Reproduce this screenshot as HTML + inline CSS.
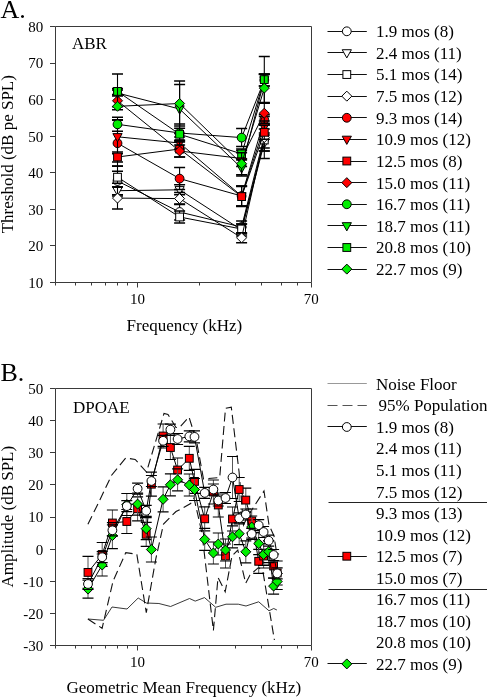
<!DOCTYPE html>
<html><head><meta charset="utf-8"><style>
html,body{margin:0;padding:0;background:#fff;}
svg{display:block;font-family:"Liberation Serif", serif;will-change:transform;}
</style></head><body>
<svg width="487" height="697" viewBox="0 0 487 697">
<rect width="487" height="697" fill="#fff"/>
<path d="M55.5 26.5H311.5V282.5H55.5Z" fill="none" stroke="#3a3a3a" stroke-width="1"/>
<line x1="50" y1="26.5" x2="55.5" y2="26.5" stroke="#3a3a3a" stroke-width="1"/>
<text x="43.3" y="31.9" text-anchor="end" font-size="15">80</text>
<line x1="50" y1="63.5" x2="55.5" y2="63.5" stroke="#3a3a3a" stroke-width="1"/>
<text x="43.3" y="68.47142857142858" text-anchor="end" font-size="15">70</text>
<line x1="50" y1="99.5" x2="55.5" y2="99.5" stroke="#3a3a3a" stroke-width="1"/>
<text x="43.3" y="105.04285714285714" text-anchor="end" font-size="15">60</text>
<line x1="50" y1="136.5" x2="55.5" y2="136.5" stroke="#3a3a3a" stroke-width="1"/>
<text x="43.3" y="141.61428571428573" text-anchor="end" font-size="15">50</text>
<line x1="50" y1="172.5" x2="55.5" y2="172.5" stroke="#3a3a3a" stroke-width="1"/>
<text x="43.3" y="178.18571428571428" text-anchor="end" font-size="15">40</text>
<line x1="50" y1="209.5" x2="55.5" y2="209.5" stroke="#3a3a3a" stroke-width="1"/>
<text x="43.3" y="214.75714285714287" text-anchor="end" font-size="15">30</text>
<line x1="50" y1="245.5" x2="55.5" y2="245.5" stroke="#3a3a3a" stroke-width="1"/>
<text x="43.3" y="251.32857142857142" text-anchor="end" font-size="15">20</text>
<line x1="50" y1="282.5" x2="55.5" y2="282.5" stroke="#3a3a3a" stroke-width="1"/>
<text x="43.3" y="287.9" text-anchor="end" font-size="15">10</text>
<line x1="55.5" y1="282.5" x2="55.5" y2="285.5" stroke="#3a3a3a" stroke-width="1"/>
<line x1="75.5" y1="282.5" x2="75.5" y2="285.5" stroke="#3a3a3a" stroke-width="1"/>
<line x1="91.5" y1="282.5" x2="91.5" y2="285.5" stroke="#3a3a3a" stroke-width="1"/>
<line x1="105.5" y1="282.5" x2="105.5" y2="285.5" stroke="#3a3a3a" stroke-width="1"/>
<line x1="117.5" y1="282.5" x2="117.5" y2="285.5" stroke="#3a3a3a" stroke-width="1"/>
<line x1="127.5" y1="282.5" x2="127.5" y2="285.5" stroke="#3a3a3a" stroke-width="1"/>
<line x1="199.5" y1="282.5" x2="199.5" y2="285.5" stroke="#3a3a3a" stroke-width="1"/>
<line x1="235.5" y1="282.5" x2="235.5" y2="285.5" stroke="#3a3a3a" stroke-width="1"/>
<line x1="261.5" y1="282.5" x2="261.5" y2="285.5" stroke="#3a3a3a" stroke-width="1"/>
<line x1="281.5" y1="282.5" x2="281.5" y2="285.5" stroke="#3a3a3a" stroke-width="1"/>
<line x1="297.5" y1="282.5" x2="297.5" y2="285.5" stroke="#3a3a3a" stroke-width="1"/>
<line x1="137.5" y1="282.5" x2="137.5" y2="287.5" stroke="#3a3a3a" stroke-width="1"/>
<line x1="311.5" y1="282.5" x2="311.5" y2="287.5" stroke="#3a3a3a" stroke-width="1"/>
<text x="137.4" y="304.0" text-anchor="middle" font-size="15">10</text>
<text x="311.2366668309326" y="304.0" text-anchor="middle" font-size="15">70</text>
<path d="M55.5 388.5H311.5V645.5H55.5Z" fill="none" stroke="#3a3a3a" stroke-width="1"/>
<line x1="50" y1="388.5" x2="55.5" y2="388.5" stroke="#3a3a3a" stroke-width="1"/>
<text x="43.3" y="393.9" text-anchor="end" font-size="15">50</text>
<line x1="50" y1="420.5" x2="55.5" y2="420.5" stroke="#3a3a3a" stroke-width="1"/>
<text x="43.3" y="426.025" text-anchor="end" font-size="15">40</text>
<line x1="50" y1="452.5" x2="55.5" y2="452.5" stroke="#3a3a3a" stroke-width="1"/>
<text x="43.3" y="458.15" text-anchor="end" font-size="15">30</text>
<line x1="50" y1="484.5" x2="55.5" y2="484.5" stroke="#3a3a3a" stroke-width="1"/>
<text x="43.3" y="490.275" text-anchor="end" font-size="15">20</text>
<line x1="50" y1="517.5" x2="55.5" y2="517.5" stroke="#3a3a3a" stroke-width="1"/>
<text x="43.3" y="522.4" text-anchor="end" font-size="15">10</text>
<line x1="50" y1="549.5" x2="55.5" y2="549.5" stroke="#3a3a3a" stroke-width="1"/>
<text x="43.3" y="554.525" text-anchor="end" font-size="15">0</text>
<line x1="50" y1="581.5" x2="55.5" y2="581.5" stroke="#3a3a3a" stroke-width="1"/>
<text x="43.3" y="586.65" text-anchor="end" font-size="15">-10</text>
<line x1="50" y1="613.5" x2="55.5" y2="613.5" stroke="#3a3a3a" stroke-width="1"/>
<text x="43.3" y="618.775" text-anchor="end" font-size="15">-20</text>
<line x1="50" y1="645.5" x2="55.5" y2="645.5" stroke="#3a3a3a" stroke-width="1"/>
<text x="43.3" y="650.9" text-anchor="end" font-size="15">-30</text>
<line x1="55.5" y1="645.5" x2="55.5" y2="648.5" stroke="#3a3a3a" stroke-width="1"/>
<line x1="75.5" y1="645.5" x2="75.5" y2="648.5" stroke="#3a3a3a" stroke-width="1"/>
<line x1="91.5" y1="645.5" x2="91.5" y2="648.5" stroke="#3a3a3a" stroke-width="1"/>
<line x1="105.5" y1="645.5" x2="105.5" y2="648.5" stroke="#3a3a3a" stroke-width="1"/>
<line x1="117.5" y1="645.5" x2="117.5" y2="648.5" stroke="#3a3a3a" stroke-width="1"/>
<line x1="127.5" y1="645.5" x2="127.5" y2="648.5" stroke="#3a3a3a" stroke-width="1"/>
<line x1="199.5" y1="645.5" x2="199.5" y2="648.5" stroke="#3a3a3a" stroke-width="1"/>
<line x1="235.5" y1="645.5" x2="235.5" y2="648.5" stroke="#3a3a3a" stroke-width="1"/>
<line x1="261.5" y1="645.5" x2="261.5" y2="648.5" stroke="#3a3a3a" stroke-width="1"/>
<line x1="281.5" y1="645.5" x2="281.5" y2="648.5" stroke="#3a3a3a" stroke-width="1"/>
<line x1="297.5" y1="645.5" x2="297.5" y2="648.5" stroke="#3a3a3a" stroke-width="1"/>
<line x1="137.5" y1="645.5" x2="137.5" y2="650.5" stroke="#3a3a3a" stroke-width="1"/>
<line x1="311.5" y1="645.5" x2="311.5" y2="650.5" stroke="#3a3a3a" stroke-width="1"/>
<text x="137.4" y="667.0" text-anchor="middle" font-size="15">10</text>
<text x="311.2366668309326" y="667.0" text-anchor="middle" font-size="15">70</text>
<text x="0.5" y="17.5" font-size="26">A.</text>
<text x="0.5" y="380.6" font-size="26">B.</text>
<text x="72" y="49.3" font-size="17">ABR</text>
<text x="73" y="412.5" font-size="17">DPOAE</text>
<text x="126.6" y="330.5" font-size="17">Frequency (kHz)</text>
<text x="66.5" y="693" font-size="17">Geometric Mean Frequency (kHz)</text>
<text transform="translate(12.8,233.3) rotate(-90)" font-size="17">Threshold (dB pe SPL)</text>
<text transform="translate(12.8,587.5) rotate(-90)" font-size="17">Amplitude (dB SPL)</text>
<line x1="327.5" y1="31.50" x2="366.8" y2="31.50" stroke="#111" stroke-width="1"/>
<circle cx="346.80" cy="31.30" r="4.40" fill="#fff" stroke="#000" stroke-width="1.0"/>
<text x="376" y="37.20" font-size="17">1.9 mos (8)</text>
<line x1="327.5" y1="52.50" x2="366.8" y2="52.50" stroke="#111" stroke-width="1"/>
<path d="M342.20 49.72H351.40L346.80 57.92Z" fill="#fff" stroke="#000" stroke-width="1.0"/>
<text x="376" y="58.82" font-size="17">2.4 mos (11)</text>
<line x1="327.5" y1="74.50" x2="366.8" y2="74.50" stroke="#111" stroke-width="1"/>
<rect x="342.90" y="70.64" width="7.80" height="7.80" fill="#fff" stroke="#000" stroke-width="1.0"/>
<text x="376" y="80.44" font-size="17">5.1 mos (14)</text>
<line x1="327.5" y1="96.50" x2="366.8" y2="96.50" stroke="#111" stroke-width="1"/>
<path d="M346.80 91.16L351.80 96.16L346.80 101.16L341.80 96.16Z" fill="#fff" stroke="#000" stroke-width="1.0"/>
<text x="376" y="102.06" font-size="17">7.5 mos (12)</text>
<line x1="327.5" y1="117.50" x2="366.8" y2="117.50" stroke="#111" stroke-width="1"/>
<circle cx="346.80" cy="117.78" r="4.40" fill="#ff0000" stroke="#000" stroke-width="1.0"/>
<text x="376" y="123.68" font-size="17">9.3 mos (14)</text>
<line x1="327.5" y1="139.50" x2="366.8" y2="139.50" stroke="#111" stroke-width="1"/>
<path d="M342.20 136.20H351.40L346.80 144.40Z" fill="#ff0000" stroke="#000" stroke-width="1.0"/>
<text x="376" y="145.30" font-size="17">10.9 mos (12)</text>
<line x1="327.5" y1="161.50" x2="366.8" y2="161.50" stroke="#111" stroke-width="1"/>
<rect x="342.90" y="157.12" width="7.80" height="7.80" fill="#ff0000" stroke="#000" stroke-width="1.0"/>
<text x="376" y="166.92" font-size="17">12.5 mos (8)</text>
<line x1="327.5" y1="182.50" x2="366.8" y2="182.50" stroke="#111" stroke-width="1"/>
<path d="M346.80 177.64L351.80 182.64L346.80 187.64L341.80 182.64Z" fill="#ff0000" stroke="#000" stroke-width="1.0"/>
<text x="376" y="188.54" font-size="17">15.0 mos (11)</text>
<line x1="327.5" y1="204.50" x2="366.8" y2="204.50" stroke="#111" stroke-width="1"/>
<circle cx="346.80" cy="204.26" r="4.40" fill="#00ee00" stroke="#000" stroke-width="1.0"/>
<text x="376" y="210.16" font-size="17">16.7 mos (11)</text>
<line x1="327.5" y1="225.50" x2="366.8" y2="225.50" stroke="#111" stroke-width="1"/>
<path d="M342.20 222.68H351.40L346.80 230.88Z" fill="#00ee00" stroke="#000" stroke-width="1.0"/>
<text x="376" y="231.78" font-size="17">18.7 mos (11)</text>
<line x1="327.5" y1="247.50" x2="366.8" y2="247.50" stroke="#111" stroke-width="1"/>
<rect x="342.90" y="243.60" width="7.80" height="7.80" fill="#00ee00" stroke="#000" stroke-width="1.0"/>
<text x="376" y="253.40" font-size="17">20.8 mos (10)</text>
<line x1="327.5" y1="269.50" x2="366.8" y2="269.50" stroke="#111" stroke-width="1"/>
<path d="M346.80 264.12L351.80 269.12L346.80 274.12L341.80 269.12Z" fill="#00ee00" stroke="#000" stroke-width="1.0"/>
<text x="376" y="275.02" font-size="17">22.7 mos (9)</text>
<text x="376" y="389.80" font-size="17">Noise Floor</text>
<line x1="327.5" y1="383.50" x2="366.8" y2="383.50" stroke="#999" stroke-width="1"/>
<text x="378.5" y="411.34" font-size="17">95% Population</text>
<line x1="327.5" y1="405.50" x2="366.8" y2="405.50" stroke="#555" stroke-width="1" stroke-dasharray="10 5"/>
<text x="376" y="432.88" font-size="17">1.9 mos (8)</text>
<line x1="327.5" y1="426.50" x2="366.8" y2="426.50" stroke="#111" stroke-width="1"/>
<circle cx="346.80" cy="426.98" r="4.40" fill="#fff" stroke="#000" stroke-width="1.0"/>
<text x="376" y="454.42" font-size="17">2.4 mos (11)</text>
<text x="376" y="475.96" font-size="17">5.1 mos (11)</text>
<text x="376" y="497.50" font-size="17">7.5 mos (12)</text>
<text x="376" y="519.04" font-size="17">9.3 mos (13)</text>
<text x="376" y="540.58" font-size="17">10.9 mos (12)</text>
<text x="376" y="562.12" font-size="17">12.5 mos (7)</text>
<line x1="327.5" y1="556.50" x2="366.8" y2="556.50" stroke="#111" stroke-width="1"/>
<rect x="342.90" y="552.32" width="7.80" height="7.80" fill="#ff0000" stroke="#000" stroke-width="1.0"/>
<text x="376" y="583.66" font-size="17">15.0 mos (7)</text>
<text x="376" y="605.20" font-size="17">16.7 mos (11)</text>
<text x="376" y="626.74" font-size="17">18.7 mos (10)</text>
<text x="376" y="648.28" font-size="17">20.8 mos (10)</text>
<text x="376" y="669.82" font-size="17">22.7 mos (9)</text>
<line x1="327.5" y1="663.50" x2="366.8" y2="663.50" stroke="#111" stroke-width="1"/>
<path d="M346.80 658.92L351.80 663.92L346.80 668.92L341.80 663.92Z" fill="#00ee00" stroke="#000" stroke-width="1.0"/>
<line x1="328.5" y1="502.5" x2="487" y2="502.5" stroke="#222" stroke-width="1"/>
<line x1="328.5" y1="589.5" x2="487" y2="589.5" stroke="#222" stroke-width="1"/>
<polyline points="117.5,181.0 179.6,212.0 241.6,227.0 264.3,136.0" fill="none" stroke="#000" stroke-width="1"/>
<path d="M117.5 166.0V196.0" stroke="#000" stroke-width="1.1" fill="none"/><path d="M112.0 166.0H123.0M112.0 196.0H123.0" stroke="#000" stroke-width="1.5" fill="none"/>
<path d="M179.6 204.0V220.0" stroke="#000" stroke-width="1.1" fill="none"/><path d="M174.1 204.0H185.1M174.1 220.0H185.1" stroke="#000" stroke-width="1.5" fill="none"/>
<path d="M241.6 221.0V233.0" stroke="#000" stroke-width="1.1" fill="none"/><path d="M236.1 221.0H247.1M236.1 233.0H247.1" stroke="#000" stroke-width="1.5" fill="none"/>
<path d="M264.3 124.0V148.0" stroke="#000" stroke-width="1.1" fill="none"/><path d="M258.8 124.0H269.8M258.8 148.0H269.8" stroke="#000" stroke-width="1.5" fill="none"/>
<circle cx="117.50" cy="181.00" r="4.40" fill="#fff" stroke="#000" stroke-width="1.0"/>
<circle cx="179.60" cy="212.00" r="4.40" fill="#fff" stroke="#000" stroke-width="1.0"/>
<circle cx="241.60" cy="227.00" r="4.40" fill="#fff" stroke="#000" stroke-width="1.0"/>
<circle cx="264.30" cy="136.00" r="4.40" fill="#fff" stroke="#000" stroke-width="1.0"/>
<polyline points="117.5,190.7 179.6,189.8 241.6,230.0 264.3,143.0" fill="none" stroke="#000" stroke-width="1"/>
<path d="M117.5 186.7V194.7" stroke="#000" stroke-width="1.1" fill="none"/><path d="M112.0 186.7H123.0M112.0 194.7H123.0" stroke="#000" stroke-width="1.5" fill="none"/>
<path d="M179.6 184.8V194.8" stroke="#000" stroke-width="1.1" fill="none"/><path d="M174.1 184.8H185.1M174.1 194.8H185.1" stroke="#000" stroke-width="1.5" fill="none"/>
<path d="M241.6 224.0V236.0" stroke="#000" stroke-width="1.1" fill="none"/><path d="M236.1 224.0H247.1M236.1 236.0H247.1" stroke="#000" stroke-width="1.5" fill="none"/>
<path d="M264.3 135.0V151.0" stroke="#000" stroke-width="1.1" fill="none"/><path d="M258.8 135.0H269.8M258.8 151.0H269.8" stroke="#000" stroke-width="1.5" fill="none"/>
<path d="M112.90 187.50H122.10L117.50 195.70Z" fill="#fff" stroke="#000" stroke-width="1.0"/>
<path d="M175.00 186.60H184.20L179.60 194.80Z" fill="#fff" stroke="#000" stroke-width="1.0"/>
<path d="M237.00 226.80H246.20L241.60 235.00Z" fill="#fff" stroke="#000" stroke-width="1.0"/>
<path d="M259.70 139.80H268.90L264.30 148.00Z" fill="#fff" stroke="#000" stroke-width="1.0"/>
<polyline points="117.5,177.2 179.6,217.0 241.6,229.0 264.3,140.0" fill="none" stroke="#000" stroke-width="1"/>
<path d="M117.5 171.2V183.2" stroke="#000" stroke-width="1.1" fill="none"/><path d="M112.0 171.2H123.0M112.0 183.2H123.0" stroke="#000" stroke-width="1.5" fill="none"/>
<path d="M179.6 211.0V223.0" stroke="#000" stroke-width="1.1" fill="none"/><path d="M174.1 211.0H185.1M174.1 223.0H185.1" stroke="#000" stroke-width="1.5" fill="none"/>
<path d="M241.6 224.0V234.0" stroke="#000" stroke-width="1.1" fill="none"/><path d="M236.1 224.0H247.1M236.1 234.0H247.1" stroke="#000" stroke-width="1.5" fill="none"/>
<path d="M264.3 129.0V151.0" stroke="#000" stroke-width="1.1" fill="none"/><path d="M258.8 129.0H269.8M258.8 151.0H269.8" stroke="#000" stroke-width="1.5" fill="none"/>
<rect x="113.60" y="173.30" width="7.80" height="7.80" fill="#fff" stroke="#000" stroke-width="1.0"/>
<rect x="175.70" y="213.10" width="7.80" height="7.80" fill="#fff" stroke="#000" stroke-width="1.0"/>
<rect x="237.70" y="225.10" width="7.80" height="7.80" fill="#fff" stroke="#000" stroke-width="1.0"/>
<rect x="260.40" y="136.10" width="7.80" height="7.80" fill="#fff" stroke="#000" stroke-width="1.0"/>
<polyline points="117.5,198.1 179.6,198.6 241.6,237.8 264.3,137.5" fill="none" stroke="#000" stroke-width="1"/>
<path d="M117.5 187.1V209.1" stroke="#000" stroke-width="1.1" fill="none"/><path d="M112.0 187.1H123.0M112.0 209.1H123.0" stroke="#000" stroke-width="1.5" fill="none"/>
<path d="M179.6 192.6V204.6" stroke="#000" stroke-width="1.1" fill="none"/><path d="M174.1 192.6H185.1M174.1 204.6H185.1" stroke="#000" stroke-width="1.5" fill="none"/>
<path d="M241.6 232.8V242.8" stroke="#000" stroke-width="1.1" fill="none"/><path d="M236.1 232.8H247.1M236.1 242.8H247.1" stroke="#000" stroke-width="1.5" fill="none"/>
<path d="M264.3 116.5V158.5" stroke="#000" stroke-width="1.1" fill="none"/><path d="M258.8 116.5H269.8M258.8 158.5H269.8" stroke="#000" stroke-width="1.5" fill="none"/>
<path d="M117.50 193.10L122.50 198.10L117.50 203.10L112.50 198.10Z" fill="#fff" stroke="#000" stroke-width="1.0"/>
<path d="M179.60 193.60L184.60 198.60L179.60 203.60L174.60 198.60Z" fill="#fff" stroke="#000" stroke-width="1.0"/>
<path d="M241.60 232.80L246.60 237.80L241.60 242.80L236.60 237.80Z" fill="#fff" stroke="#000" stroke-width="1.0"/>
<path d="M264.30 132.50L269.30 137.50L264.30 142.50L259.30 137.50Z" fill="#fff" stroke="#000" stroke-width="1.0"/>
<polyline points="117.5,143.2 179.6,178.6 241.6,196.0 264.3,119.8" fill="none" stroke="#000" stroke-width="1"/>
<path d="M117.5 120.2V166.2" stroke="#000" stroke-width="1.1" fill="none"/><path d="M112.0 120.2H123.0M112.0 166.2H123.0" stroke="#000" stroke-width="1.5" fill="none"/>
<path d="M179.6 167.6V189.6" stroke="#000" stroke-width="1.1" fill="none"/><path d="M174.1 167.6H185.1M174.1 189.6H185.1" stroke="#000" stroke-width="1.5" fill="none"/>
<path d="M241.6 186.0V206.0" stroke="#000" stroke-width="1.1" fill="none"/><path d="M236.1 186.0H247.1M236.1 206.0H247.1" stroke="#000" stroke-width="1.5" fill="none"/>
<path d="M264.3 114.8V124.8" stroke="#000" stroke-width="1.1" fill="none"/><path d="M258.8 114.8H269.8M258.8 124.8H269.8" stroke="#000" stroke-width="1.5" fill="none"/>
<circle cx="117.50" cy="143.20" r="4.40" fill="#ff0000" stroke="#000" stroke-width="1.0"/>
<circle cx="179.60" cy="178.60" r="4.40" fill="#ff0000" stroke="#000" stroke-width="1.0"/>
<circle cx="241.60" cy="196.00" r="4.40" fill="#ff0000" stroke="#000" stroke-width="1.0"/>
<circle cx="264.30" cy="119.80" r="4.40" fill="#ff0000" stroke="#000" stroke-width="1.0"/>
<polyline points="117.5,136.8 179.6,143.0 241.6,196.0 264.3,127.0" fill="none" stroke="#000" stroke-width="1"/>
<path d="M117.5 119.8V153.8" stroke="#000" stroke-width="1.1" fill="none"/><path d="M112.0 119.8H123.0M112.0 153.8H123.0" stroke="#000" stroke-width="1.5" fill="none"/>
<path d="M179.6 137.0V149.0" stroke="#000" stroke-width="1.1" fill="none"/><path d="M174.1 137.0H185.1M174.1 149.0H185.1" stroke="#000" stroke-width="1.5" fill="none"/>
<path d="M241.6 186.0V206.0" stroke="#000" stroke-width="1.1" fill="none"/><path d="M236.1 186.0H247.1M236.1 206.0H247.1" stroke="#000" stroke-width="1.5" fill="none"/>
<path d="M264.3 121.0V133.0" stroke="#000" stroke-width="1.1" fill="none"/><path d="M258.8 121.0H269.8M258.8 133.0H269.8" stroke="#000" stroke-width="1.5" fill="none"/>
<path d="M112.90 133.60H122.10L117.50 141.80Z" fill="#ff0000" stroke="#000" stroke-width="1.0"/>
<path d="M175.00 139.80H184.20L179.60 148.00Z" fill="#ff0000" stroke="#000" stroke-width="1.0"/>
<path d="M237.00 192.80H246.20L241.60 201.00Z" fill="#ff0000" stroke="#000" stroke-width="1.0"/>
<path d="M259.70 123.80H268.90L264.30 132.00Z" fill="#ff0000" stroke="#000" stroke-width="1.0"/>
<polyline points="117.5,157.0 179.6,149.0 241.6,196.6 264.3,132.3" fill="none" stroke="#000" stroke-width="1"/>
<path d="M117.5 152.0V162.0" stroke="#000" stroke-width="1.1" fill="none"/><path d="M112.0 152.0H123.0M112.0 162.0H123.0" stroke="#000" stroke-width="1.5" fill="none"/>
<path d="M179.6 141.0V157.0" stroke="#000" stroke-width="1.1" fill="none"/><path d="M174.1 141.0H185.1M174.1 157.0H185.1" stroke="#000" stroke-width="1.5" fill="none"/>
<path d="M241.6 186.6V206.6" stroke="#000" stroke-width="1.1" fill="none"/><path d="M236.1 186.6H247.1M236.1 206.6H247.1" stroke="#000" stroke-width="1.5" fill="none"/>
<path d="M264.3 125.3V139.3" stroke="#000" stroke-width="1.1" fill="none"/><path d="M258.8 125.3H269.8M258.8 139.3H269.8" stroke="#000" stroke-width="1.5" fill="none"/>
<rect x="113.60" y="153.10" width="7.80" height="7.80" fill="#ff0000" stroke="#000" stroke-width="1.0"/>
<rect x="175.70" y="145.10" width="7.80" height="7.80" fill="#ff0000" stroke="#000" stroke-width="1.0"/>
<rect x="237.70" y="192.70" width="7.80" height="7.80" fill="#ff0000" stroke="#000" stroke-width="1.0"/>
<rect x="260.40" y="128.40" width="7.80" height="7.80" fill="#ff0000" stroke="#000" stroke-width="1.0"/>
<polyline points="117.5,100.8 179.6,151.0 241.6,158.5 264.3,113.2" fill="none" stroke="#000" stroke-width="1"/>
<path d="M117.5 94.8V106.8" stroke="#000" stroke-width="1.1" fill="none"/><path d="M112.0 94.8H123.0M112.0 106.8H123.0" stroke="#000" stroke-width="1.5" fill="none"/>
<path d="M179.6 145.0V157.0" stroke="#000" stroke-width="1.1" fill="none"/><path d="M174.1 145.0H185.1M174.1 157.0H185.1" stroke="#000" stroke-width="1.5" fill="none"/>
<path d="M241.6 150.5V166.5" stroke="#000" stroke-width="1.1" fill="none"/><path d="M236.1 150.5H247.1M236.1 166.5H247.1" stroke="#000" stroke-width="1.5" fill="none"/>
<path d="M264.3 103.2V123.2" stroke="#000" stroke-width="1.1" fill="none"/><path d="M258.8 103.2H269.8M258.8 123.2H269.8" stroke="#000" stroke-width="1.5" fill="none"/>
<path d="M117.50 95.80L122.50 100.80L117.50 105.80L112.50 100.80Z" fill="#ff0000" stroke="#000" stroke-width="1.0"/>
<path d="M179.60 146.00L184.60 151.00L179.60 156.00L174.60 151.00Z" fill="#ff0000" stroke="#000" stroke-width="1.0"/>
<path d="M241.60 153.50L246.60 158.50L241.60 163.50L236.60 158.50Z" fill="#ff0000" stroke="#000" stroke-width="1.0"/>
<path d="M264.30 108.20L269.30 113.20L264.30 118.20L259.30 113.20Z" fill="#ff0000" stroke="#000" stroke-width="1.0"/>
<polyline points="117.5,124.3 179.6,133.0 241.6,137.6 264.3,80.0" fill="none" stroke="#000" stroke-width="1"/>
<path d="M117.5 117.3V131.3" stroke="#000" stroke-width="1.1" fill="none"/><path d="M112.0 117.3H123.0M112.0 131.3H123.0" stroke="#000" stroke-width="1.5" fill="none"/>
<path d="M179.6 124.0V142.0" stroke="#000" stroke-width="1.1" fill="none"/><path d="M174.1 124.0H185.1M174.1 142.0H185.1" stroke="#000" stroke-width="1.5" fill="none"/>
<path d="M241.6 128.6V146.6" stroke="#000" stroke-width="1.1" fill="none"/><path d="M236.1 128.6H247.1M236.1 146.6H247.1" stroke="#000" stroke-width="1.5" fill="none"/>
<path d="M264.3 74.0V86.0" stroke="#000" stroke-width="1.1" fill="none"/><path d="M258.8 74.0H269.8M258.8 86.0H269.8" stroke="#000" stroke-width="1.5" fill="none"/>
<circle cx="117.50" cy="124.30" r="4.40" fill="#00ee00" stroke="#000" stroke-width="1.0"/>
<circle cx="179.60" cy="133.00" r="4.40" fill="#00ee00" stroke="#000" stroke-width="1.0"/>
<circle cx="241.60" cy="137.60" r="4.40" fill="#00ee00" stroke="#000" stroke-width="1.0"/>
<circle cx="264.30" cy="80.00" r="4.40" fill="#00ee00" stroke="#000" stroke-width="1.0"/>
<polyline points="117.5,93.0 179.6,109.0 241.6,168.0 264.3,80.0" fill="none" stroke="#000" stroke-width="1"/>
<path d="M117.5 90.0V96.0" stroke="#000" stroke-width="1.1" fill="none"/><path d="M112.0 90.0H123.0M112.0 96.0H123.0" stroke="#000" stroke-width="1.5" fill="none"/>
<path d="M179.6 84.6V133.4" stroke="#000" stroke-width="1.1" fill="none"/><path d="M174.1 84.6H185.1M174.1 133.4H185.1" stroke="#000" stroke-width="1.5" fill="none"/>
<path d="M241.6 160.0V176.0" stroke="#000" stroke-width="1.1" fill="none"/><path d="M236.1 160.0H247.1M236.1 176.0H247.1" stroke="#000" stroke-width="1.5" fill="none"/>
<path d="M264.3 74.0V86.0" stroke="#000" stroke-width="1.1" fill="none"/><path d="M258.8 74.0H269.8M258.8 86.0H269.8" stroke="#000" stroke-width="1.5" fill="none"/>
<path d="M112.90 89.80H122.10L117.50 98.00Z" fill="#00ee00" stroke="#000" stroke-width="1.0"/>
<path d="M175.00 105.80H184.20L179.60 114.00Z" fill="#00ee00" stroke="#000" stroke-width="1.0"/>
<path d="M237.00 164.80H246.20L241.60 173.00Z" fill="#00ee00" stroke="#000" stroke-width="1.0"/>
<path d="M259.70 76.80H268.90L264.30 85.00Z" fill="#00ee00" stroke="#000" stroke-width="1.0"/>
<polyline points="117.5,91.4 179.6,134.2 241.6,153.9 264.3,79.6" fill="none" stroke="#000" stroke-width="1"/>
<path d="M117.5 88.4V94.4" stroke="#000" stroke-width="1.1" fill="none"/><path d="M112.0 88.4H123.0M112.0 94.4H123.0" stroke="#000" stroke-width="1.5" fill="none"/>
<path d="M179.6 128.2V140.2" stroke="#000" stroke-width="1.1" fill="none"/><path d="M174.1 128.2H185.1M174.1 140.2H185.1" stroke="#000" stroke-width="1.5" fill="none"/>
<path d="M241.6 148.9V158.9" stroke="#000" stroke-width="1.1" fill="none"/><path d="M236.1 148.9H247.1M236.1 158.9H247.1" stroke="#000" stroke-width="1.5" fill="none"/>
<path d="M264.3 74.6V102.6" stroke="#000" stroke-width="1.1" fill="none"/><path d="M258.8 74.6H269.8M258.8 102.6H269.8" stroke="#000" stroke-width="1.5" fill="none"/>
<rect x="113.60" y="87.50" width="7.80" height="7.80" fill="#00ee00" stroke="#000" stroke-width="1.0"/>
<rect x="175.70" y="130.30" width="7.80" height="7.80" fill="#00ee00" stroke="#000" stroke-width="1.0"/>
<rect x="237.70" y="150.00" width="7.80" height="7.80" fill="#00ee00" stroke="#000" stroke-width="1.0"/>
<rect x="260.40" y="75.70" width="7.80" height="7.80" fill="#00ee00" stroke="#000" stroke-width="1.0"/>
<polyline points="117.5,106.3 179.6,103.5 241.6,163.7 264.3,88.1" fill="none" stroke="#000" stroke-width="1"/>
<path d="M117.5 74.0V109.8" stroke="#000" stroke-width="1.1" fill="none"/><path d="M112.0 74.0H123.0M112.0 109.8H123.0" stroke="#000" stroke-width="1.5" fill="none"/>
<path d="M179.6 80.9V126.1" stroke="#000" stroke-width="1.1" fill="none"/><path d="M174.1 80.9H185.1M174.1 126.1H185.1" stroke="#000" stroke-width="1.5" fill="none"/>
<path d="M241.6 152.7V174.7" stroke="#000" stroke-width="1.1" fill="none"/><path d="M236.1 152.7H247.1M236.1 174.7H247.1" stroke="#000" stroke-width="1.5" fill="none"/>
<path d="M264.3 56.5V103.1" stroke="#000" stroke-width="1.1" fill="none"/><path d="M258.8 56.5H269.8M258.8 103.1H269.8" stroke="#000" stroke-width="1.5" fill="none"/>
<path d="M117.50 101.30L122.50 106.30L117.50 111.30L112.50 106.30Z" fill="#00ee00" stroke="#000" stroke-width="1.0"/>
<path d="M179.60 98.50L184.60 103.50L179.60 108.50L174.60 103.50Z" fill="#00ee00" stroke="#000" stroke-width="1.0"/>
<path d="M241.60 158.70L246.60 163.70L241.60 168.70L236.60 163.70Z" fill="#00ee00" stroke="#000" stroke-width="1.0"/>
<path d="M264.30 83.10L269.30 88.10L264.30 93.10L259.30 88.10Z" fill="#00ee00" stroke="#000" stroke-width="1.0"/>
<polyline points="87.9,619.0 103.5,620.3 112.0,607.0 127.0,609.0 138.2,598.0 146.3,603.0 158.9,603.5 170.6,606.5 189.5,598.5 195.2,601.1 204.5,597.6 215.7,607.3 226.0,604.2 238.3,604.2 246.0,606.0 258.7,601.8 269.0,610.8 273.7,608.5 276.9,610.0" fill="none" stroke="#222" stroke-width="0.9"/>
<polyline points="87.9,524.2 98.9,502.0 111.6,475.2 125.8,457.9 135.2,459.5 146.5,472.0 164.0,413.5 168.0,414.5 176.0,427.5 179.5,427.5 189.0,417.0 196.6,441.4 203.5,479.0 219.7,477.5 225.5,408.4 231.3,407.1 239.1,472.3 243.5,525.0 248.5,515.0 264.0,491.0 269.0,525.0 274.0,536.0 276.5,552.0" fill="none" stroke="#111" stroke-width="1.1" stroke-dasharray="9 4.5"/>
<polyline points="87.9,619.0 102.1,628.3 113.1,581.0 125.8,552.6 136.8,554.2 146.3,612.6 155.8,558.9 163.5,524.0 176.0,511.5 182.0,508.5 190.6,503.6 194.0,498.0 201.9,532.8 213.4,630.5 218.0,577.4 225.2,591.7 232.0,556.0 237.8,550.0 245.7,583.2 250.0,575.0 258.6,567.4 263.0,572.0 274.4,640.0" fill="none" stroke="#111" stroke-width="1.1" stroke-dasharray="9 4.5"/>
<polyline points="88.0,572.4 102.2,554.5 112.4,523.0 126.8,521.5 137.6,508.8 146.2,534.3 151.4,484.2 163.1,436.0 170.4,447.5 177.6,470.0 189.3,458.3 194.5,481.4 204.7,518.8 213.4,492.0 218.3,505.0 225.5,556.0 232.5,519.0 239.2,489.5 245.8,500.1 251.7,521.0 258.7,561.3 263.6,556.0 268.7,553.0 273.6,566.0 277.2,573.0" fill="none" stroke="#000" stroke-width="1"/>
<path d="M88.0 556.4V588.4" stroke="#555" stroke-width="1" fill="none"/><path d="M82.5 556.4H93.5M82.5 588.4H93.5" stroke="#000" stroke-width="1.2" fill="none"/>
<path d="M102.2 542.5V566.5" stroke="#555" stroke-width="1" fill="none"/><path d="M96.7 542.5H107.7M96.7 566.5H107.7" stroke="#000" stroke-width="1.2" fill="none"/>
<path d="M112.4 510.0V536.0" stroke="#555" stroke-width="1" fill="none"/><path d="M106.9 510.0H117.9M106.9 536.0H117.9" stroke="#000" stroke-width="1.2" fill="none"/>
<path d="M126.8 509.5V533.5" stroke="#555" stroke-width="1" fill="none"/><path d="M121.3 509.5H132.3M121.3 533.5H132.3" stroke="#000" stroke-width="1.2" fill="none"/>
<path d="M137.6 496.8V520.8" stroke="#555" stroke-width="1" fill="none"/><path d="M132.1 496.8H143.1M132.1 520.8H143.1" stroke="#000" stroke-width="1.2" fill="none"/>
<path d="M146.2 522.3V546.3" stroke="#555" stroke-width="1" fill="none"/><path d="M140.7 522.3H151.7M140.7 546.3H151.7" stroke="#000" stroke-width="1.2" fill="none"/>
<path d="M151.4 472.2V496.2" stroke="#555" stroke-width="1" fill="none"/><path d="M145.9 472.2H156.9M145.9 496.2H156.9" stroke="#000" stroke-width="1.2" fill="none"/>
<path d="M163.1 424.0V448.0" stroke="#555" stroke-width="1" fill="none"/><path d="M157.6 424.0H168.6M157.6 448.0H168.6" stroke="#000" stroke-width="1.2" fill="none"/>
<path d="M170.4 435.5V459.5" stroke="#555" stroke-width="1" fill="none"/><path d="M164.9 435.5H175.9M164.9 459.5H175.9" stroke="#000" stroke-width="1.2" fill="none"/>
<path d="M177.6 458.0V482.0" stroke="#555" stroke-width="1" fill="none"/><path d="M172.1 458.0H183.1M172.1 482.0H183.1" stroke="#000" stroke-width="1.2" fill="none"/>
<path d="M189.3 446.3V470.3" stroke="#555" stroke-width="1" fill="none"/><path d="M183.8 446.3H194.8M183.8 470.3H194.8" stroke="#000" stroke-width="1.2" fill="none"/>
<path d="M194.5 469.4V493.4" stroke="#555" stroke-width="1" fill="none"/><path d="M189.0 469.4H200.0M189.0 493.4H200.0" stroke="#000" stroke-width="1.2" fill="none"/>
<path d="M204.7 506.8V530.8" stroke="#555" stroke-width="1" fill="none"/><path d="M199.2 506.8H210.2M199.2 530.8H210.2" stroke="#000" stroke-width="1.2" fill="none"/>
<path d="M213.4 480.0V504.0" stroke="#555" stroke-width="1" fill="none"/><path d="M207.9 480.0H218.9M207.9 504.0H218.9" stroke="#000" stroke-width="1.2" fill="none"/>
<path d="M218.3 493.0V517.0" stroke="#555" stroke-width="1" fill="none"/><path d="M212.8 493.0H223.8M212.8 517.0H223.8" stroke="#000" stroke-width="1.2" fill="none"/>
<path d="M225.5 544.0V568.0" stroke="#555" stroke-width="1" fill="none"/><path d="M220.0 544.0H231.0M220.0 568.0H231.0" stroke="#000" stroke-width="1.2" fill="none"/>
<path d="M232.5 507.0V531.0" stroke="#555" stroke-width="1" fill="none"/><path d="M227.0 507.0H238.0M227.0 531.0H238.0" stroke="#000" stroke-width="1.2" fill="none"/>
<path d="M239.2 477.5V501.5" stroke="#555" stroke-width="1" fill="none"/><path d="M233.7 477.5H244.7M233.7 501.5H244.7" stroke="#000" stroke-width="1.2" fill="none"/>
<path d="M245.8 488.1V512.1" stroke="#555" stroke-width="1" fill="none"/><path d="M240.3 488.1H251.3M240.3 512.1H251.3" stroke="#000" stroke-width="1.2" fill="none"/>
<path d="M251.7 509.0V533.0" stroke="#555" stroke-width="1" fill="none"/><path d="M246.2 509.0H257.2M246.2 533.0H257.2" stroke="#000" stroke-width="1.2" fill="none"/>
<path d="M258.7 549.3V573.3" stroke="#555" stroke-width="1" fill="none"/><path d="M253.2 549.3H264.2M253.2 573.3H264.2" stroke="#000" stroke-width="1.2" fill="none"/>
<path d="M263.6 544.0V568.0" stroke="#555" stroke-width="1" fill="none"/><path d="M258.1 544.0H269.1M258.1 568.0H269.1" stroke="#000" stroke-width="1.2" fill="none"/>
<path d="M268.7 541.0V565.0" stroke="#555" stroke-width="1" fill="none"/><path d="M263.2 541.0H274.2M263.2 565.0H274.2" stroke="#000" stroke-width="1.2" fill="none"/>
<path d="M273.6 554.0V578.0" stroke="#555" stroke-width="1" fill="none"/><path d="M268.1 554.0H279.1M268.1 578.0H279.1" stroke="#000" stroke-width="1.2" fill="none"/>
<path d="M277.2 561.0V585.0" stroke="#555" stroke-width="1" fill="none"/><path d="M271.7 561.0H282.7M271.7 585.0H282.7" stroke="#000" stroke-width="1.2" fill="none"/>
<rect x="84.10" y="568.50" width="7.80" height="7.80" fill="#ff0000" stroke="#000" stroke-width="1.0"/>
<rect x="98.30" y="550.60" width="7.80" height="7.80" fill="#ff0000" stroke="#000" stroke-width="1.0"/>
<rect x="108.50" y="519.10" width="7.80" height="7.80" fill="#ff0000" stroke="#000" stroke-width="1.0"/>
<rect x="122.90" y="517.60" width="7.80" height="7.80" fill="#ff0000" stroke="#000" stroke-width="1.0"/>
<rect x="133.70" y="504.90" width="7.80" height="7.80" fill="#ff0000" stroke="#000" stroke-width="1.0"/>
<rect x="142.30" y="530.40" width="7.80" height="7.80" fill="#ff0000" stroke="#000" stroke-width="1.0"/>
<rect x="147.50" y="480.30" width="7.80" height="7.80" fill="#ff0000" stroke="#000" stroke-width="1.0"/>
<rect x="159.20" y="432.10" width="7.80" height="7.80" fill="#ff0000" stroke="#000" stroke-width="1.0"/>
<rect x="166.50" y="443.60" width="7.80" height="7.80" fill="#ff0000" stroke="#000" stroke-width="1.0"/>
<rect x="173.70" y="466.10" width="7.80" height="7.80" fill="#ff0000" stroke="#000" stroke-width="1.0"/>
<rect x="185.40" y="454.40" width="7.80" height="7.80" fill="#ff0000" stroke="#000" stroke-width="1.0"/>
<rect x="190.60" y="477.50" width="7.80" height="7.80" fill="#ff0000" stroke="#000" stroke-width="1.0"/>
<rect x="200.80" y="514.90" width="7.80" height="7.80" fill="#ff0000" stroke="#000" stroke-width="1.0"/>
<rect x="209.50" y="488.10" width="7.80" height="7.80" fill="#ff0000" stroke="#000" stroke-width="1.0"/>
<rect x="214.40" y="501.10" width="7.80" height="7.80" fill="#ff0000" stroke="#000" stroke-width="1.0"/>
<rect x="221.60" y="552.10" width="7.80" height="7.80" fill="#ff0000" stroke="#000" stroke-width="1.0"/>
<rect x="228.60" y="515.10" width="7.80" height="7.80" fill="#ff0000" stroke="#000" stroke-width="1.0"/>
<rect x="235.30" y="485.60" width="7.80" height="7.80" fill="#ff0000" stroke="#000" stroke-width="1.0"/>
<rect x="241.90" y="496.20" width="7.80" height="7.80" fill="#ff0000" stroke="#000" stroke-width="1.0"/>
<rect x="247.80" y="517.10" width="7.80" height="7.80" fill="#ff0000" stroke="#000" stroke-width="1.0"/>
<rect x="254.80" y="557.40" width="7.80" height="7.80" fill="#ff0000" stroke="#000" stroke-width="1.0"/>
<rect x="259.70" y="552.10" width="7.80" height="7.80" fill="#ff0000" stroke="#000" stroke-width="1.0"/>
<rect x="264.80" y="549.10" width="7.80" height="7.80" fill="#ff0000" stroke="#000" stroke-width="1.0"/>
<rect x="269.70" y="562.10" width="7.80" height="7.80" fill="#ff0000" stroke="#000" stroke-width="1.0"/>
<rect x="273.30" y="569.10" width="7.80" height="7.80" fill="#ff0000" stroke="#000" stroke-width="1.0"/>
<polyline points="88.0,589.1 102.2,565.0 112.4,535.6 126.8,504.5 137.6,504.1 146.2,528.7 151.4,549.5 163.1,499.3 170.4,484.8 177.6,479.8 189.3,485.0 194.5,489.5 204.7,539.4 213.4,553.0 218.3,544.0 225.5,550.0 232.5,536.8 239.2,533.7 245.8,551.8 251.7,527.0 258.7,543.6 263.6,554.5 268.7,551.6 273.6,586.1 277.2,581.5" fill="none" stroke="#000" stroke-width="1"/>
<path d="M88.0 580.1V598.1" stroke="#555" stroke-width="1" fill="none"/><path d="M82.5 580.1H93.5M82.5 598.1H93.5" stroke="#000" stroke-width="1.2" fill="none"/>
<path d="M102.2 554.0V576.0" stroke="#555" stroke-width="1" fill="none"/><path d="M96.7 554.0H107.7M96.7 576.0H107.7" stroke="#000" stroke-width="1.2" fill="none"/>
<path d="M112.4 522.6V548.6" stroke="#555" stroke-width="1" fill="none"/><path d="M106.9 522.6H117.9M106.9 548.6H117.9" stroke="#000" stroke-width="1.2" fill="none"/>
<path d="M126.8 493.5V515.5" stroke="#555" stroke-width="1" fill="none"/><path d="M121.3 493.5H132.3M121.3 515.5H132.3" stroke="#000" stroke-width="1.2" fill="none"/>
<path d="M137.6 493.1V515.1" stroke="#555" stroke-width="1" fill="none"/><path d="M132.1 493.1H143.1M132.1 515.1H143.1" stroke="#000" stroke-width="1.2" fill="none"/>
<path d="M146.2 517.7V539.7" stroke="#555" stroke-width="1" fill="none"/><path d="M140.7 517.7H151.7M140.7 539.7H151.7" stroke="#000" stroke-width="1.2" fill="none"/>
<path d="M151.4 537.0V562.0" stroke="#555" stroke-width="1" fill="none"/><path d="M145.9 537.0H156.9M145.9 562.0H156.9" stroke="#000" stroke-width="1.2" fill="none"/>
<path d="M163.1 486.8V511.8" stroke="#555" stroke-width="1" fill="none"/><path d="M157.6 486.8H168.6M157.6 511.8H168.6" stroke="#000" stroke-width="1.2" fill="none"/>
<path d="M170.4 473.8V495.8" stroke="#555" stroke-width="1" fill="none"/><path d="M164.9 473.8H175.9M164.9 495.8H175.9" stroke="#000" stroke-width="1.2" fill="none"/>
<path d="M177.6 468.8V490.8" stroke="#555" stroke-width="1" fill="none"/><path d="M172.1 468.8H183.1M172.1 490.8H183.1" stroke="#000" stroke-width="1.2" fill="none"/>
<path d="M189.3 474.0V496.0" stroke="#555" stroke-width="1" fill="none"/><path d="M183.8 474.0H194.8M183.8 496.0H194.8" stroke="#000" stroke-width="1.2" fill="none"/>
<path d="M194.5 478.5V500.5" stroke="#555" stroke-width="1" fill="none"/><path d="M189.0 478.5H200.0M189.0 500.5H200.0" stroke="#000" stroke-width="1.2" fill="none"/>
<path d="M204.7 528.4V550.4" stroke="#555" stroke-width="1" fill="none"/><path d="M199.2 528.4H210.2M199.2 550.4H210.2" stroke="#000" stroke-width="1.2" fill="none"/>
<path d="M213.4 542.0V564.0" stroke="#555" stroke-width="1" fill="none"/><path d="M207.9 542.0H218.9M207.9 564.0H218.9" stroke="#000" stroke-width="1.2" fill="none"/>
<path d="M218.3 533.0V555.0" stroke="#555" stroke-width="1" fill="none"/><path d="M212.8 533.0H223.8M212.8 555.0H223.8" stroke="#000" stroke-width="1.2" fill="none"/>
<path d="M225.5 539.0V561.0" stroke="#555" stroke-width="1" fill="none"/><path d="M220.0 539.0H231.0M220.0 561.0H231.0" stroke="#000" stroke-width="1.2" fill="none"/>
<path d="M232.5 525.8V547.8" stroke="#555" stroke-width="1" fill="none"/><path d="M227.0 525.8H238.0M227.0 547.8H238.0" stroke="#000" stroke-width="1.2" fill="none"/>
<path d="M239.2 522.7V544.7" stroke="#555" stroke-width="1" fill="none"/><path d="M233.7 522.7H244.7M233.7 544.7H244.7" stroke="#000" stroke-width="1.2" fill="none"/>
<path d="M245.8 540.8V562.8" stroke="#555" stroke-width="1" fill="none"/><path d="M240.3 540.8H251.3M240.3 562.8H251.3" stroke="#000" stroke-width="1.2" fill="none"/>
<path d="M251.7 516.0V538.0" stroke="#555" stroke-width="1" fill="none"/><path d="M246.2 516.0H257.2M246.2 538.0H257.2" stroke="#000" stroke-width="1.2" fill="none"/>
<path d="M258.7 532.6V554.6" stroke="#555" stroke-width="1" fill="none"/><path d="M253.2 532.6H264.2M253.2 554.6H264.2" stroke="#000" stroke-width="1.2" fill="none"/>
<path d="M263.6 543.5V565.5" stroke="#555" stroke-width="1" fill="none"/><path d="M258.1 543.5H269.1M258.1 565.5H269.1" stroke="#000" stroke-width="1.2" fill="none"/>
<path d="M268.7 540.6V562.6" stroke="#555" stroke-width="1" fill="none"/><path d="M263.2 540.6H274.2M263.2 562.6H274.2" stroke="#000" stroke-width="1.2" fill="none"/>
<path d="M273.6 578.1V594.1" stroke="#555" stroke-width="1" fill="none"/><path d="M268.1 578.1H279.1M268.1 594.1H279.1" stroke="#000" stroke-width="1.2" fill="none"/>
<path d="M277.2 573.5V589.5" stroke="#555" stroke-width="1" fill="none"/><path d="M271.7 573.5H282.7M271.7 589.5H282.7" stroke="#000" stroke-width="1.2" fill="none"/>
<path d="M88.00 584.10L93.00 589.10L88.00 594.10L83.00 589.10Z" fill="#00ee00" stroke="#000" stroke-width="1.0"/>
<path d="M102.20 560.00L107.20 565.00L102.20 570.00L97.20 565.00Z" fill="#00ee00" stroke="#000" stroke-width="1.0"/>
<path d="M112.40 530.60L117.40 535.60L112.40 540.60L107.40 535.60Z" fill="#00ee00" stroke="#000" stroke-width="1.0"/>
<path d="M126.80 499.50L131.80 504.50L126.80 509.50L121.80 504.50Z" fill="#00ee00" stroke="#000" stroke-width="1.0"/>
<path d="M137.60 499.10L142.60 504.10L137.60 509.10L132.60 504.10Z" fill="#00ee00" stroke="#000" stroke-width="1.0"/>
<path d="M146.20 523.70L151.20 528.70L146.20 533.70L141.20 528.70Z" fill="#00ee00" stroke="#000" stroke-width="1.0"/>
<path d="M151.40 544.50L156.40 549.50L151.40 554.50L146.40 549.50Z" fill="#00ee00" stroke="#000" stroke-width="1.0"/>
<path d="M163.10 494.30L168.10 499.30L163.10 504.30L158.10 499.30Z" fill="#00ee00" stroke="#000" stroke-width="1.0"/>
<path d="M170.40 479.80L175.40 484.80L170.40 489.80L165.40 484.80Z" fill="#00ee00" stroke="#000" stroke-width="1.0"/>
<path d="M177.60 474.80L182.60 479.80L177.60 484.80L172.60 479.80Z" fill="#00ee00" stroke="#000" stroke-width="1.0"/>
<path d="M189.30 480.00L194.30 485.00L189.30 490.00L184.30 485.00Z" fill="#00ee00" stroke="#000" stroke-width="1.0"/>
<path d="M194.50 484.50L199.50 489.50L194.50 494.50L189.50 489.50Z" fill="#00ee00" stroke="#000" stroke-width="1.0"/>
<path d="M204.70 534.40L209.70 539.40L204.70 544.40L199.70 539.40Z" fill="#00ee00" stroke="#000" stroke-width="1.0"/>
<path d="M213.40 548.00L218.40 553.00L213.40 558.00L208.40 553.00Z" fill="#00ee00" stroke="#000" stroke-width="1.0"/>
<path d="M218.30 539.00L223.30 544.00L218.30 549.00L213.30 544.00Z" fill="#00ee00" stroke="#000" stroke-width="1.0"/>
<path d="M225.50 545.00L230.50 550.00L225.50 555.00L220.50 550.00Z" fill="#00ee00" stroke="#000" stroke-width="1.0"/>
<path d="M232.50 531.80L237.50 536.80L232.50 541.80L227.50 536.80Z" fill="#00ee00" stroke="#000" stroke-width="1.0"/>
<path d="M239.20 528.70L244.20 533.70L239.20 538.70L234.20 533.70Z" fill="#00ee00" stroke="#000" stroke-width="1.0"/>
<path d="M245.80 546.80L250.80 551.80L245.80 556.80L240.80 551.80Z" fill="#00ee00" stroke="#000" stroke-width="1.0"/>
<path d="M251.70 522.00L256.70 527.00L251.70 532.00L246.70 527.00Z" fill="#00ee00" stroke="#000" stroke-width="1.0"/>
<path d="M258.70 538.60L263.70 543.60L258.70 548.60L253.70 543.60Z" fill="#00ee00" stroke="#000" stroke-width="1.0"/>
<path d="M263.60 549.50L268.60 554.50L263.60 559.50L258.60 554.50Z" fill="#00ee00" stroke="#000" stroke-width="1.0"/>
<path d="M268.70 546.60L273.70 551.60L268.70 556.60L263.70 551.60Z" fill="#00ee00" stroke="#000" stroke-width="1.0"/>
<path d="M273.60 581.10L278.60 586.10L273.60 591.10L268.60 586.10Z" fill="#00ee00" stroke="#000" stroke-width="1.0"/>
<path d="M277.20 576.50L282.20 581.50L277.20 586.50L272.20 581.50Z" fill="#00ee00" stroke="#000" stroke-width="1.0"/>
<polyline points="88.0,584.0 102.2,557.2 112.4,530.3 126.8,506.1 137.6,488.7 146.2,510.8 151.4,481.0 163.1,440.8 170.4,429.6 177.6,439.0 189.3,436.4 194.5,436.9 204.7,492.9 213.4,489.5 218.3,500.5 225.5,498.0 232.5,477.5 239.2,518.3 245.8,514.5 251.7,533.9 258.7,525.2 263.6,532.0 268.7,540.7 273.6,555.0 277.2,573.4" fill="none" stroke="#000" stroke-width="1"/>
<path d="M88.0 578.5V589.5" stroke="#555" stroke-width="1" fill="none"/><path d="M82.5 578.5H93.5M82.5 589.5H93.5" stroke="#000" stroke-width="1.2" fill="none"/>
<path d="M102.2 551.7V562.7" stroke="#555" stroke-width="1" fill="none"/><path d="M96.7 551.7H107.7M96.7 562.7H107.7" stroke="#000" stroke-width="1.2" fill="none"/>
<path d="M112.4 524.8V535.8" stroke="#555" stroke-width="1" fill="none"/><path d="M106.9 524.8H117.9M106.9 535.8H117.9" stroke="#000" stroke-width="1.2" fill="none"/>
<path d="M126.8 500.6V511.6" stroke="#555" stroke-width="1" fill="none"/><path d="M121.3 500.6H132.3M121.3 511.6H132.3" stroke="#000" stroke-width="1.2" fill="none"/>
<path d="M137.6 483.2V494.2" stroke="#555" stroke-width="1" fill="none"/><path d="M132.1 483.2H143.1M132.1 494.2H143.1" stroke="#000" stroke-width="1.2" fill="none"/>
<path d="M146.2 505.3V516.3" stroke="#555" stroke-width="1" fill="none"/><path d="M140.7 505.3H151.7M140.7 516.3H151.7" stroke="#000" stroke-width="1.2" fill="none"/>
<path d="M151.4 475.5V486.5" stroke="#555" stroke-width="1" fill="none"/><path d="M145.9 475.5H156.9M145.9 486.5H156.9" stroke="#000" stroke-width="1.2" fill="none"/>
<path d="M163.1 435.3V446.3" stroke="#555" stroke-width="1" fill="none"/><path d="M157.6 435.3H168.6M157.6 446.3H168.6" stroke="#000" stroke-width="1.2" fill="none"/>
<path d="M170.4 424.1V435.1" stroke="#555" stroke-width="1" fill="none"/><path d="M164.9 424.1H175.9M164.9 435.1H175.9" stroke="#000" stroke-width="1.2" fill="none"/>
<path d="M177.6 433.5V444.5" stroke="#555" stroke-width="1" fill="none"/><path d="M172.1 433.5H183.1M172.1 444.5H183.1" stroke="#000" stroke-width="1.2" fill="none"/>
<path d="M189.3 430.9V441.9" stroke="#555" stroke-width="1" fill="none"/><path d="M183.8 430.9H194.8M183.8 441.9H194.8" stroke="#000" stroke-width="1.2" fill="none"/>
<path d="M194.5 430.9V442.9" stroke="#555" stroke-width="1" fill="none"/><path d="M189.0 430.9H200.0M189.0 442.9H200.0" stroke="#000" stroke-width="1.2" fill="none"/>
<path d="M204.7 487.4V498.4" stroke="#555" stroke-width="1" fill="none"/><path d="M199.2 487.4H210.2M199.2 498.4H210.2" stroke="#000" stroke-width="1.2" fill="none"/>
<path d="M213.4 484.0V495.0" stroke="#555" stroke-width="1" fill="none"/><path d="M207.9 484.0H218.9M207.9 495.0H218.9" stroke="#000" stroke-width="1.2" fill="none"/>
<path d="M218.3 495.0V506.0" stroke="#555" stroke-width="1" fill="none"/><path d="M212.8 495.0H223.8M212.8 506.0H223.8" stroke="#000" stroke-width="1.2" fill="none"/>
<path d="M225.5 492.5V503.5" stroke="#555" stroke-width="1" fill="none"/><path d="M220.0 492.5H231.0M220.0 503.5H231.0" stroke="#000" stroke-width="1.2" fill="none"/>
<path d="M232.5 456.5V498.5" stroke="#555" stroke-width="1" fill="none"/><path d="M227.0 456.5H238.0M227.0 498.5H238.0" stroke="#000" stroke-width="1.2" fill="none"/>
<path d="M239.2 512.8V523.8" stroke="#555" stroke-width="1" fill="none"/><path d="M233.7 512.8H244.7M233.7 523.8H244.7" stroke="#000" stroke-width="1.2" fill="none"/>
<path d="M245.8 509.0V520.0" stroke="#555" stroke-width="1" fill="none"/><path d="M240.3 509.0H251.3M240.3 520.0H251.3" stroke="#000" stroke-width="1.2" fill="none"/>
<path d="M251.7 528.4V539.4" stroke="#555" stroke-width="1" fill="none"/><path d="M246.2 528.4H257.2M246.2 539.4H257.2" stroke="#000" stroke-width="1.2" fill="none"/>
<path d="M258.7 519.7V530.7" stroke="#555" stroke-width="1" fill="none"/><path d="M253.2 519.7H264.2M253.2 530.7H264.2" stroke="#000" stroke-width="1.2" fill="none"/>
<path d="M263.6 526.5V537.5" stroke="#555" stroke-width="1" fill="none"/><path d="M258.1 526.5H269.1M258.1 537.5H269.1" stroke="#000" stroke-width="1.2" fill="none"/>
<path d="M268.7 535.2V546.2" stroke="#555" stroke-width="1" fill="none"/><path d="M263.2 535.2H274.2M263.2 546.2H274.2" stroke="#000" stroke-width="1.2" fill="none"/>
<path d="M273.6 549.5V560.5" stroke="#555" stroke-width="1" fill="none"/><path d="M268.1 549.5H279.1M268.1 560.5H279.1" stroke="#000" stroke-width="1.2" fill="none"/>
<path d="M277.2 567.9V578.9" stroke="#555" stroke-width="1" fill="none"/><path d="M271.7 567.9H282.7M271.7 578.9H282.7" stroke="#000" stroke-width="1.2" fill="none"/>
<circle cx="88.00" cy="584.00" r="4.40" fill="#fff" stroke="#000" stroke-width="1.0"/>
<circle cx="102.20" cy="557.20" r="4.40" fill="#fff" stroke="#000" stroke-width="1.0"/>
<circle cx="112.40" cy="530.30" r="4.40" fill="#fff" stroke="#000" stroke-width="1.0"/>
<circle cx="126.80" cy="506.10" r="4.40" fill="#fff" stroke="#000" stroke-width="1.0"/>
<circle cx="137.60" cy="488.70" r="4.40" fill="#fff" stroke="#000" stroke-width="1.0"/>
<circle cx="146.20" cy="510.80" r="4.40" fill="#fff" stroke="#000" stroke-width="1.0"/>
<circle cx="151.40" cy="481.00" r="4.40" fill="#fff" stroke="#000" stroke-width="1.0"/>
<circle cx="163.10" cy="440.80" r="4.40" fill="#fff" stroke="#000" stroke-width="1.0"/>
<circle cx="170.40" cy="429.60" r="4.40" fill="#fff" stroke="#000" stroke-width="1.0"/>
<circle cx="177.60" cy="439.00" r="4.40" fill="#fff" stroke="#000" stroke-width="1.0"/>
<circle cx="189.30" cy="436.40" r="4.40" fill="#fff" stroke="#000" stroke-width="1.0"/>
<circle cx="194.50" cy="436.90" r="4.40" fill="#fff" stroke="#000" stroke-width="1.0"/>
<circle cx="204.70" cy="492.90" r="4.40" fill="#fff" stroke="#000" stroke-width="1.0"/>
<circle cx="213.40" cy="489.50" r="4.40" fill="#fff" stroke="#000" stroke-width="1.0"/>
<circle cx="218.30" cy="500.50" r="4.40" fill="#fff" stroke="#000" stroke-width="1.0"/>
<circle cx="225.50" cy="498.00" r="4.40" fill="#fff" stroke="#000" stroke-width="1.0"/>
<circle cx="232.50" cy="477.50" r="4.40" fill="#fff" stroke="#000" stroke-width="1.0"/>
<circle cx="239.20" cy="518.30" r="4.40" fill="#fff" stroke="#000" stroke-width="1.0"/>
<circle cx="245.80" cy="514.50" r="4.40" fill="#fff" stroke="#000" stroke-width="1.0"/>
<circle cx="251.70" cy="533.90" r="4.40" fill="#fff" stroke="#000" stroke-width="1.0"/>
<circle cx="258.70" cy="525.20" r="4.40" fill="#fff" stroke="#000" stroke-width="1.0"/>
<circle cx="263.60" cy="532.00" r="4.40" fill="#fff" stroke="#000" stroke-width="1.0"/>
<circle cx="268.70" cy="540.70" r="4.40" fill="#fff" stroke="#000" stroke-width="1.0"/>
<circle cx="273.60" cy="555.00" r="4.40" fill="#fff" stroke="#000" stroke-width="1.0"/>
<circle cx="277.20" cy="573.40" r="4.40" fill="#fff" stroke="#000" stroke-width="1.0"/>
</svg></body></html>
